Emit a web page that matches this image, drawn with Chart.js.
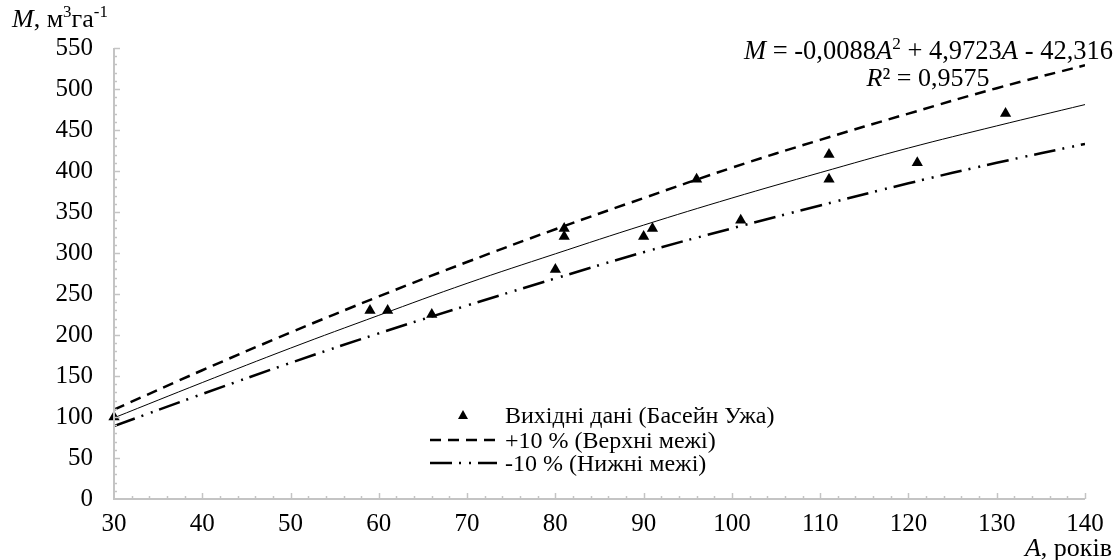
<!DOCTYPE html>
<html>
<head>
<meta charset="utf-8">
<script src="https://cdn.jsdelivr.net/npm/chart.js@4/dist/chart.umd.min.js"></script>
<style>
  body { margin: 0; background: #fff; }
  #wrap { width: 1116px; height: 560px; position: relative; }
</style>
</head>
<body>
<div id="wrap"><canvas id="chart"></canvas></div>
<script>
// observed data (age A, stock M)
const ages = [30, 59, 61, 66, 80, 81, 81, 90, 91, 96, 101, 111, 111, 121, 131];
const volumes = [100, 230, 230, 225, 280, 330, 320, 320, 330, 390, 340, 420, 390, 410, 470];

// curves at every 10 years
const curveAges = [30, 40, 50, 60, 70, 80, 90, 100, 110, 120, 130, 140];
const trendValues = [99, 142, 184, 224, 263, 299, 334, 367, 398, 428, 455, 481];
const upperValues = [109, 157, 203, 247, 289, 329, 367, 404, 438, 470, 501, 529];
const lowerValues = [89, 128, 166, 202, 236, 269, 301, 330, 358, 385, 410, 433];

const xTicks = [30, 40, 50, 60, 70, 80, 90, 100, 110, 120, 130, 140];
const yTicks = [0, 50, 100, 150, 200, 250, 300, 350, 400, 450, 500, 550];

const legendLabels = ["Вихідні дані (Басейн Ужа)", "+10 % (Верхні межі)", "-10 % (Нижні межі)"];

const FONT = "'Liberation Serif', 'Times New Roman', serif";
const AXIS_COLOR = "#c4c4c4";

function toPoints(xs, ys) {
    return xs.map((x, i) => ({ x: x, y: ys[i] }));
}

// draw a run of text pieces: [text, italic, superscript]
function drawPieces(ctx, pieces, x, y, size, align) {
    let total = 0;
    const widths = pieces.map(p => {
        ctx.font = (p[1] ? "italic " : "") + (p[2] ? size * 0.65 : size) + "px " + FONT;
        const w = ctx.measureText(p[0]).width;
        total += w;
        return w;
    });
    let cx = align === "right" ? x - total : (align === "center" ? x - total / 2 : x);
    pieces.forEach((p, i) => {
        ctx.font = (p[1] ? "italic " : "") + (p[2] ? size * 0.65 : size) + "px " + FONT;
        ctx.fillText(p[0], cx, p[2] ? y - size * 0.38 : y);
        cx += widths[i];
    });
}

const extras = {
    id: "extras",
    afterDraw(chart) {
        const ctx = chart.ctx;
        const xs = chart.scales.x, ys = chart.scales.y;
        const bottom = ys.getPixelForValue(0);
        const left = xs.getPixelForValue(30);
        ctx.save();

        // axis lines and inside ticks (major + minor)
        ctx.strokeStyle = AXIS_COLOR;
        ctx.lineWidth = 2;
        ctx.beginPath();
        ctx.moveTo(left, ys.getPixelForValue(550));
        ctx.lineTo(left, bottom);
        ctx.lineTo(xs.getPixelForValue(140), bottom);
        ctx.stroke();
        ctx.lineWidth = 1.5;
        for (let v = 32; v <= 140; v += 2) {
            const px = Math.round(xs.getPixelForValue(v)) + 0.5;
            const len = (v - 30) % 10 === 0 ? 6 : 3;
            ctx.beginPath();
            ctx.moveTo(px, bottom);
            ctx.lineTo(px, bottom - len);
            ctx.stroke();
        }
        for (let v = 10; v <= 550; v += 10) {
            const py = Math.round(ys.getPixelForValue(v)) + 0.5;
            const len = v % 50 === 0 ? 6 : 3;
            ctx.beginPath();
            ctx.moveTo(left, py);
            ctx.lineTo(left + len, py);
            ctx.stroke();
        }

        ctx.fillStyle = "#000";
        ctx.textBaseline = "alphabetic";
        ctx.textAlign = "left";

        // axis titles
        drawPieces(ctx, [["M", true], [", м", false], ["3", false, true], ["га", false], ["-1", false, true]], 12, 27, 26, "left");
        drawPieces(ctx, [["A", true], [", років", false]], 1112, 556, 26, "right");

        // trendline equation
        drawPieces(ctx, [["M", true], [" = -0,0088", false], ["A", true], ["2", false, true],
            [" + 4,9723", false], ["A", true], [" - 42,316", false]], 1113, 59, 26.5, "right");
        drawPieces(ctx, [["R", true], ["² = 0,9575", false]], 928, 86, 26, "center");

        // legend
        const ds = chart.data.datasets;
        const rows = [ds[0], ds[2], ds[3]];
        const rowY = [415, 440, 463];
        rows.forEach((d, i) => {
            const y = rowY[i];
            if (i === 0) {
                ctx.beginPath();
                ctx.moveTo(463, y - 5);
                ctx.lineTo(468, y + 4);
                ctx.lineTo(458, y + 4);
                ctx.closePath();
                ctx.fill();
            } else {
                ctx.strokeStyle = "#000";
                ctx.lineWidth = d.borderWidth;
                ctx.setLineDash(d.borderDash);
                ctx.beginPath();
                ctx.moveTo(430, y);
                ctx.lineTo(497, y);
                ctx.stroke();
                ctx.setLineDash([]);
            }
            ctx.font = "24px " + FONT;
            ctx.fillText(legendLabels[i], 505, y + 8);
        });
        ctx.restore();
    }
};

new Chart(document.getElementById("chart"), {
    type: "scatter",
    data: {
        datasets: [
            {
                label: legendLabels[0],
                data: toPoints(ages, volumes),
                pointStyle: "triangle",
                pointRadius: 6.5,
                backgroundColor: "#000",
                borderColor: "#000",
                borderWidth: 0,
                clip: false,
                order: 0
            },
            {
                label: "trend",
                data: toPoints(curveAges, trendValues),
                showLine: true,
                borderColor: "#000",
                borderWidth: 1,
                pointRadius: 0,
                tension: 0.4,
                order: 1
            },
            {
                label: legendLabels[1],
                data: toPoints(curveAges, upperValues),
                showLine: true,
                borderColor: "#000",
                borderWidth: 2.5,
                borderDash: [11, 7],
                pointRadius: 0,
                tension: 0.4,
                order: 1
            },
            {
                label: legendLabels[2],
                data: toPoints(curveAges, lowerValues),
                showLine: true,
                borderColor: "#000",
                borderWidth: 2.5,
                borderDash: [22, 7, 2, 8, 2, 7],
                pointRadius: 0,
                tension: 0.4,
                order: 1
            }
        ]
    },
    options: {
        responsive: true,
        maintainAspectRatio: false,
        animation: false,
        layout: { padding: { top: 48, right: 31, left: 0, bottom: 0 } },
        plugins: {
            legend: { display: false },
            tooltip: { enabled: false }
        },
        scales: {
            x: {
                type: "linear",
                min: 30,
                max: 140,
                afterBuildTicks: s => { s.ticks = xTicks.map(v => ({ value: v })); },
                afterFit: s => { s.height = 61; },
                grid: { display: false, drawTicks: false },
                border: { display: false },
                ticks: { color: "#000", font: { family: FONT, size: 25 }, padding: 10, maxRotation: 0 }
            },
            y: {
                min: 0,
                max: 550,
                afterBuildTicks: s => { s.ticks = yTicks.map(v => ({ value: v })); },
                afterFit: s => { s.width = 114; },
                grid: { display: false, drawTicks: false },
                border: { display: false },
                ticks: { color: "#000", font: { family: FONT, size: 25 }, padding: 21 }
            }
        }
    },
    plugins: [extras]
});
</script>
</body>
</html>
